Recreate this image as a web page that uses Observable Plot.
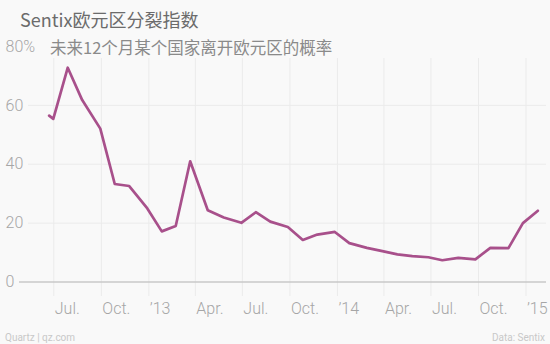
<!DOCTYPE html>
<html>
<head>
<meta charset="utf-8">
<script src="https://cdn.jsdelivr.net/npm/d3@7"></script>
<script src="https://cdn.jsdelivr.net/npm/@observablehq/plot@0.6"></script>
<style>
  html, body { margin: 0; padding: 0; background: #f9f9f9; }
  #wrap { position: relative; width: 550px; height: 344px; overflow: hidden; }
  #chart { position: absolute; left: 0; top: 0; }
  .t { position: absolute; white-space: nowrap; font-family: "Noto Sans CJK SC", "Noto Sans", sans-serif; }
  #title { left: 20px; top: 8px; font-size: 18px; line-height: 22px; color: #6b6b6b; }
  #subtitle { left: 50px; top: 36px; font-size: 16.5px; line-height: 22px; color: #8a8a8a; }
  #src { left: 5px; top: 331px; font-size: 10px; line-height: 14px; color: #c8c8c8; font-family: Roboto, "Noto Sans", sans-serif; }
  #data { right: 5px; top: 331px; font-size: 10px; line-height: 14px; color: #c8c8c8; font-family: Roboto, "Noto Sans", sans-serif; }
</style>
</head>
<body>
<div id="wrap">
  <div id="chart"></div>
  <div class="t" id="title">Sentix欧元区分裂指数</div>
  <div class="t" id="subtitle">未来12个月某个国家离开欧元区的概率</div>
  <div class="t" id="src">Quartz | qz.com</div>
  <div class="t" id="data">Data: Sentix</div>
</div>
<script>
const dates = ["2012-06-22","2012-06-30","2012-07-28","2012-08-25","2012-09-29","2012-10-27","2012-11-24","2012-12-29","2013-01-26","2013-02-22","2013-03-22","2013-04-25","2013-05-26","2013-06-29","2013-07-27","2013-08-24","2013-09-27","2013-10-26","2013-11-23","2013-12-27","2014-01-24","2014-02-27","2014-03-29","2014-04-27","2014-05-26","2014-06-26","2014-07-23","2014-08-23","2014-09-25","2014-10-24","2014-11-28","2014-12-26","2015-01-24"];
const values = [56.5,55.4,72.8,61.8,52.1,33.3,32.6,25.0,17.2,19.0,41.0,24.4,21.9,20.1,23.7,20.5,18.7,14.3,16.1,17.0,13.2,11.6,10.5,9.4,8.8,8.4,7.4,8.2,7.7,11.6,11.5,20.0,24.2];

const xTickDates = ["2012-07-01","2012-10-01","2013-01-01","2013-04-01","2013-07-01","2013-10-01","2014-01-01","2014-04-01","2014-07-01","2014-10-01","2015-01-01"];
const xTickLabels = ["Jul.","Oct.","’13","Apr.","Jul.","Oct.","’14","Apr.","Jul.","Oct.","’15"];
const yTicks = [0, 20, 40, 60, 80];
const yTickLabels = ["0", "20", "40", "60", "80%"];
const yGrid = [20, 40, 60];

const data = dates.map((d, i) => ({date: new Date(d), value: values[i]}));
const ticks = xTickDates.map(d => new Date(d));
const yLab = yTicks.map((v, i) => ({v, label: yTickLabels[i]}));

const chart = Plot.plot({
  width: 550,
  height: 344,
  marginLeft: 19,
  marginRight: 4,
  marginTop: 58,
  marginBottom: 48,
  style: {background: "transparent", fontFamily: "Roboto, 'Noto Sans', sans-serif", overflow: "visible"},
  x: {type: "utc", domain: [ticks[0], ticks[ticks.length - 1]], range: [53.3, 525.5]},
  y: {domain: [0, 80], range: [281.5, 46], axis: null},
  marks: [
    Plot.ruleX(ticks, {stroke: "#ebebeb", strokeWidth: 1}),
    Plot.ruleY(yGrid, {stroke: "#ebebeb", strokeWidth: 1, insetLeft: 9}),
    Plot.ruleY([0], {stroke: "#c9c9c9", strokeWidth: 1.3}),
    Plot.line(data, {x: "date", y: "value", stroke: "#a8508b", strokeWidth: 2.7, strokeLinejoin: "round", curve: "linear"}),
    Plot.axisX(ticks, {
      tickSize: 0, tickPadding: 6, textAnchor: "start", dx: 1,
      fontSize: 16, fill: "#a6a6a6", fontWeight: 300,
      tickFormat: d => xTickLabels[ticks.findIndex(t => +t === +d)]
    }),
    Plot.text(yLab, {y: "v", text: "label", frameAnchor: "left", dx: -14, textAnchor: "start", fontSize: 16, fill: "#a6a6a6", fontWeight: 300})
  ]
});
document.getElementById("chart").appendChild(chart);
</script>
</body>
</html>
